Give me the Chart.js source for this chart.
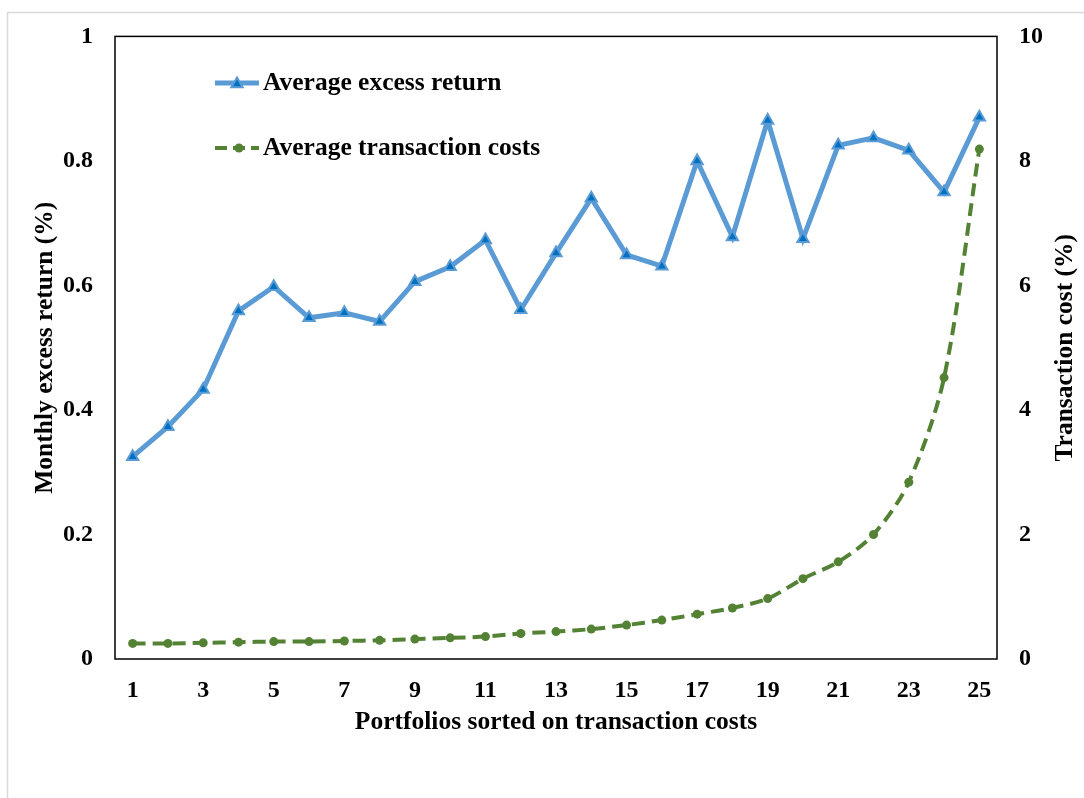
<!DOCTYPE html>
<html>
<head>
<meta charset="utf-8">
<title>Portfolios sorted on transaction costs</title>
<script src="https://cdn.jsdelivr.net/npm/chart.js@4/dist/chart.umd.min.js"></script>
<style>
    html, body { margin: 0; padding: 0; background: #fff; }
    #wrap { position: relative; width: 1084px; height: 798px; }
</style>
</head>
<body>
<div id="wrap"><canvas id="chart"></canvas></div>
<script>
// Data
const portfolios = ['1', '2', '3', '4', '5', '6', '7', '8', '9', '10', '11', '12', '13',
    '14', '15', '16', '17', '18', '19', '20', '21', '22', '23', '24', '25'];
const excessReturn = [0.325, 0.373, 0.433, 0.559, 0.598, 0.548, 0.556, 0.542, 0.606, 0.630,
    0.673, 0.561, 0.652, 0.740, 0.649, 0.631, 0.800, 0.678, 0.865, 0.675,
    0.825, 0.837, 0.817, 0.750, 0.870];
const transactionCost = [0.25, 0.25, 0.26, 0.27, 0.28, 0.28, 0.29, 0.30, 0.32, 0.34,
    0.36, 0.41, 0.44, 0.48, 0.545, 0.625, 0.72, 0.82, 0.97, 1.29,
    1.56, 2.00, 2.84, 4.52, 8.19];
const seriesNames = ['Average excess return', 'Average transaction costs'];
const axisTitles = ['Monthly excess return (%)', 'Transaction cost (%)', 'Portfolios sorted on transaction costs'];

const FONT = '"Liberation Serif", "Times New Roman", serif';
const TITLE_SIZE = 25.5;
const BLUE = '#5B9BD5';
const BLUE_DARK = '#0070C0';
const GREEN = '#548235';

function triangle(ctx, x, y, r) {
    ctx.beginPath();
    ctx.moveTo(x, y - r);
    ctx.lineTo(x + r * 0.866, y + r / 2);
    ctx.lineTo(x - r * 0.866, y + r / 2);
    ctx.closePath();
}

// page frame, plot box, right title and the in-plot legend
const decorations = {
    id: 'decorations',
    beforeDraw(chart) {
        const ctx = chart.ctx;
        ctx.save();
        ctx.fillStyle = '#fff';
        ctx.fillRect(0, 0, chart.width, chart.height);
        ctx.strokeStyle = '#d9d9d9';
        ctx.lineWidth = 1.5;
        ctx.beginPath();
        ctx.moveTo(7.5, chart.height);
        ctx.lineTo(7.5, 12.5);
        ctx.lineTo(chart.width, 12.5);
        ctx.stroke();
        ctx.restore();
    },
    beforeDatasetsDraw(chart) {
        const { ctx, chartArea: a } = chart;
        ctx.save();
        ctx.strokeStyle = '#000';
        ctx.lineWidth = 1.5;
        ctx.strokeRect(a.left, a.top, a.right - a.left, a.bottom - a.top);

        // right axis title reads bottom to top
        ctx.translate(1065, (a.top + a.bottom) / 2);
        ctx.rotate(-Math.PI / 2);
        ctx.font = 'bold ' + TITLE_SIZE + 'px ' + FONT;
        ctx.fillStyle = '#000';
        ctx.textAlign = 'center';
        ctx.textBaseline = 'middle';
        ctx.fillText(axisTitles[1], 0, 0);
        ctx.restore();
    },
    afterDatasetsDraw(chart) {
        const ctx = chart.ctx;
        ctx.save();
        ctx.font = 'bold ' + TITLE_SIZE + 'px ' + FONT;
        ctx.textBaseline = 'middle';

        // blue entry
        ctx.strokeStyle = BLUE;
        ctx.lineWidth = 5;
        ctx.beginPath();
        ctx.moveTo(215, 83);
        ctx.lineTo(259, 83);
        ctx.stroke();
        ctx.lineWidth = 2;
        ctx.fillStyle = BLUE_DARK;
        triangle(ctx, 237, 84, 6.5);
        ctx.fill();
        ctx.stroke();
        ctx.fillStyle = '#000';
        ctx.fillText(seriesNames[0], 263, 83);

        // green entry
        ctx.strokeStyle = GREEN;
        ctx.lineWidth = 4;
        ctx.setLineDash([12, 6]);
        ctx.beginPath();
        ctx.moveTo(215, 148);
        ctx.lineTo(259, 148);
        ctx.stroke();
        ctx.setLineDash([]);
        ctx.fillStyle = GREEN;
        ctx.beginPath();
        ctx.arc(239, 148, 4.5, 0, Math.PI * 2);
        ctx.fill();
        ctx.fillStyle = '#000';
        ctx.fillText(seriesNames[1], 263, 148);
        ctx.restore();
    }
};

new Chart(document.getElementById('chart'), {
    type: 'line',
    data: {
        labels: portfolios,
        datasets: [
            {
                label: seriesNames[0],
                data: excessReturn,
                yAxisID: 'y',
                borderColor: BLUE,
                borderWidth: 5,
                pointStyle: 'triangle',
                pointRadius: 6.5,
                pointBackgroundColor: BLUE_DARK,
                pointBorderColor: BLUE,
                pointBorderWidth: 2,
                tension: 0,
                order: 1
            },
            {
                label: seriesNames[1],
                data: transactionCost,
                yAxisID: 'y1',
                borderColor: GREEN,
                borderWidth: 4,
                borderDash: [13, 7],
                pointStyle: 'circle',
                pointRadius: 4.5,
                pointBackgroundColor: GREEN,
                pointBorderColor: GREEN,
                pointBorderWidth: 0,
                tension: 0.3,
                order: 2
            }
        ]
    },
    options: {
        responsive: true,
        maintainAspectRatio: false,
        animation: false,
        layout: { padding: { top: 35, left: 0, right: 0, bottom: 0 } },
        plugins: {
            legend: { display: false },
            tooltip: { enabled: false }
        },
        scales: {
            x: {
                offset: true,
                grid: { display: false, drawTicks: false },
                border: { display: false },
                ticks: {
                    autoSkip: false,
                    maxRotation: 0,
                    padding: 17,
                    color: '#000',
                    font: { family: FONT, size: 24, weight: 'bold' },
                    callback: (v, i) => (i % 2 === 0 ? portfolios[i] : '')
                },
                title: {
                    display: true,
                    text: axisTitles[2],
                    color: '#000',
                    padding: { top: 0, bottom: 60 },
                    font: { family: FONT, size: TITLE_SIZE, weight: 'bold' }
                },
                afterFit: (s) => { s.height = 139; }
            },
            y: {
                position: 'left',
                min: 0,
                max: 1,
                grid: { display: false, drawTicks: false },
                border: { display: false },
                ticks: {
                    stepSize: 0.2,
                    padding: 22,
                    color: '#000',
                    font: { family: FONT, size: 24, weight: 'bold' },
                    callback: (v) => (v === 0 || v === 1 ? String(v) : v.toFixed(1))
                },
                title: {
                    display: true,
                    text: axisTitles[0],
                    color: '#000',
                    padding: { top: 30, bottom: 0 },
                    font: { family: FONT, size: TITLE_SIZE, weight: 'bold' }
                },
                afterFit: (s) => { s.width = 115; }
            },
            y1: {
                position: 'right',
                min: 0,
                max: 10,
                grid: { display: false, drawTicks: false },
                border: { display: false },
                ticks: {
                    stepSize: 2,
                    padding: 22,
                    color: '#000',
                    font: { family: FONT, size: 24, weight: 'bold' }
                },
                afterFit: (s) => { s.width = 87; }
            }
        }
    },
    plugins: [decorations]
});
</script>
</body>
</html>
